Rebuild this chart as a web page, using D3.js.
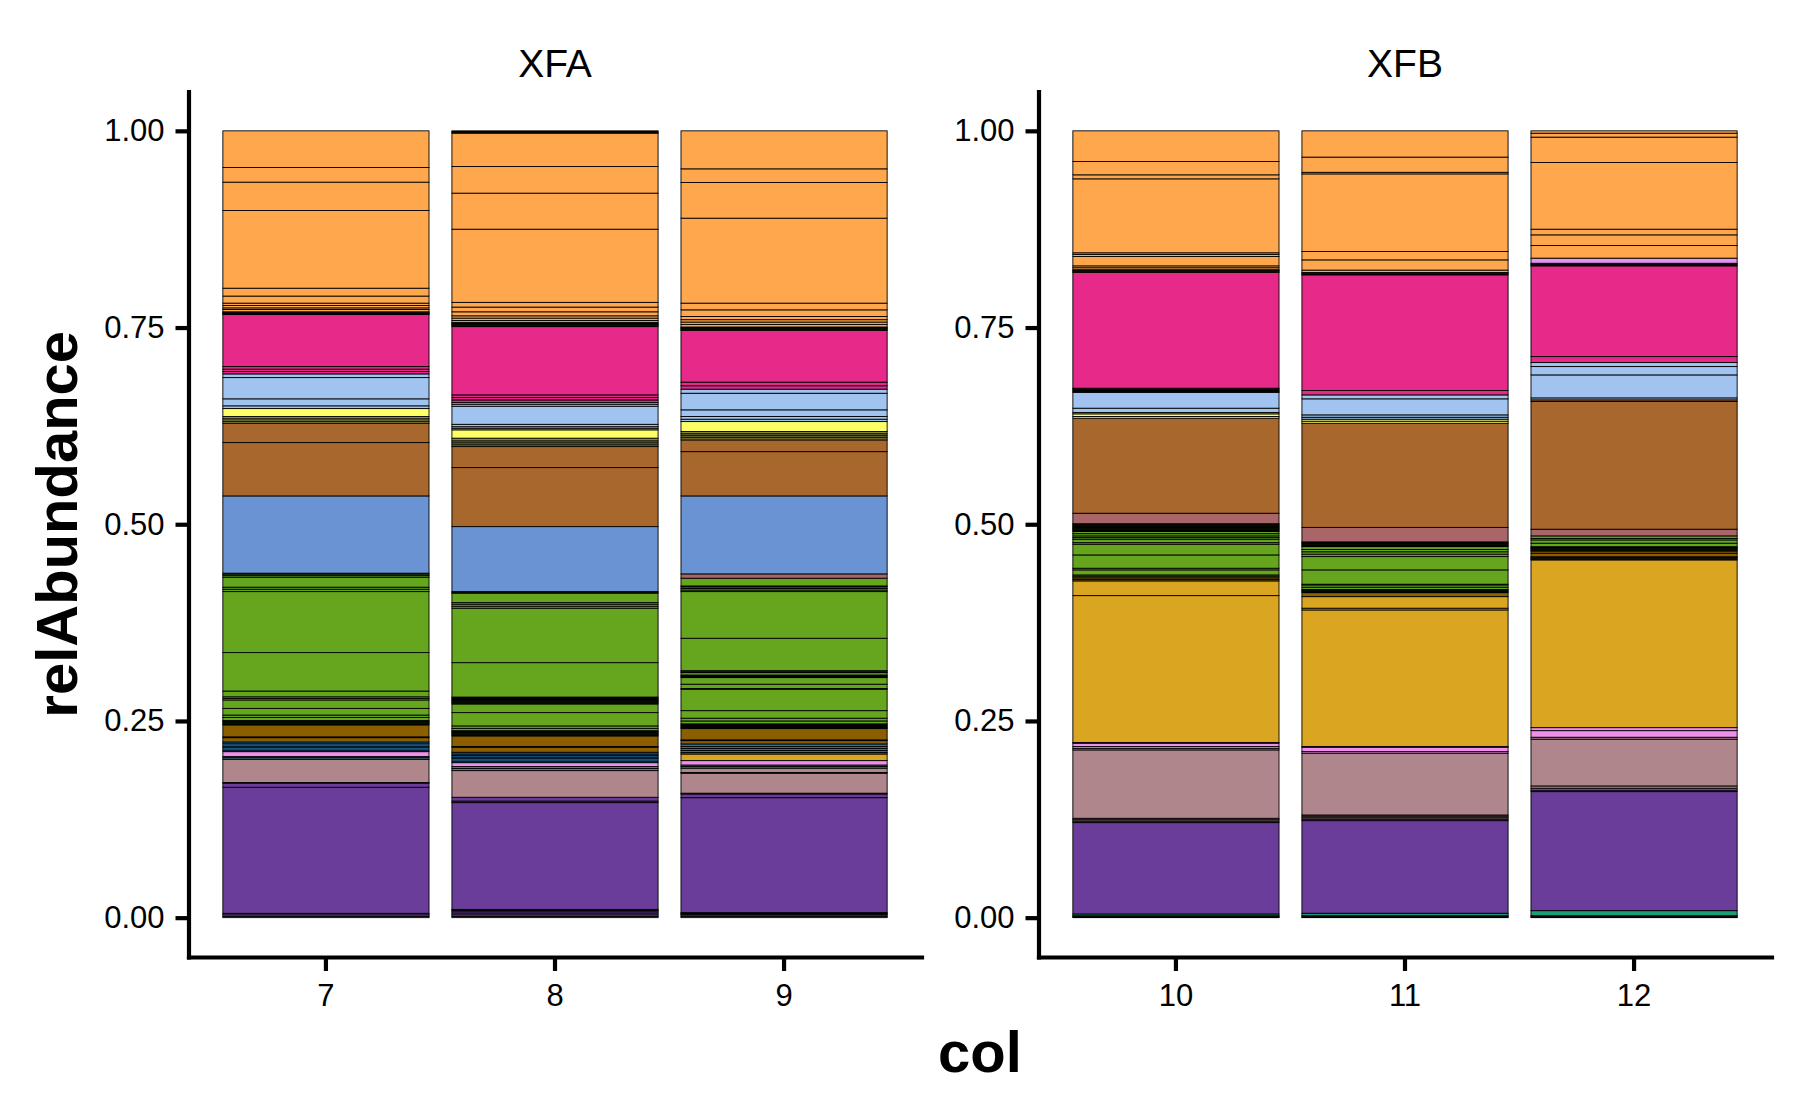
<!DOCTYPE html>
<html>
<head>
<meta charset="utf-8">
<script src="https://cdn.jsdelivr.net/npm/d3@7"></script>
<style>
  html, body { margin: 0; padding: 0; background: #ffffff; }
  svg { display: block; font-family: "Liberation Sans", Arial, Helvetica, sans-serif; }
</style>
</head>
<body>
<svg id="chart" width="1800" height="1113"></svg>
<script>
// ---------------- DATA ----------------
const facetNames = ["XFA", "XFB"];
const facetColumns = [["7", "8", "9"], ["10", "11", "12"]];
const yTicks = [0, 0.25, 0.5, 0.75, 1.0];
const xTitle = "col";
const yTitle = "relAbundance";

const groupKeys = ["grey", "teal", "purple", "mauve", "tealgrey", "violet", "blue", "darkbrown",
  "goldenrod", "green", "rosy", "cornflower", "brown", "olive", "yellow", "lightblue",
  "magenta", "lightviolet", "orange"];
const groupColors = ["#888888", "#1B9E77", "#6A3D9A", "#AF868C", "#468A8E", "#F08FEA", "#1F78B4", "#8B5E00",
  "#DAA520", "#66A61E", "#A86668", "#6A93D4", "#A8672D", "#8C8C40", "#FFFF66", "#A0C4EF",
  "#E7298A", "#E494F5", "#FFA74D"];

// stacked segments, bottom to top: [group, relAbundance]
const col7 = [
  ["grey",0.0015],["grey",0.002],["purple",0.002],["purple",0.1602],["purple",0.0051],
  ["mauve",0.001],["mauve",0.0295],["tealgrey",0.002],["tealgrey",0.0014],["violet",0.0063],
  ["blue",0.002],["blue",0.003],["blue",0.002],["blue",0.003],["blue",0.0023],
  ["darkbrown",0.0055],["darkbrown",0.001],["darkbrown",0.0152],
  ["green",0.0011],["green",0.0011],["green",0.0011],["green",0.0011],["green",0.0011],
  ["green",0.004],["green",0.003],["green",0.0085],["green",0.0107],["green",0.002],["green",0.002],
  ["green",0.0073],["green",0.0489],["green",0.0775],["green",0.003],["green",0.0026],["green",0.0127],
  ["green",0.002],["green",0.002],["green",0.0011],
  ["cornflower",0.0982],["brown",0.0678],["brown",0.0246],
  ["olive",0.0026],["olive",0.003],["olive",0.0029],["yellow",0.0101],
  ["lightblue",0.0035],["lightblue",0.0089],["lightblue",0.027],["lightblue",0.0047],
  ["magenta",0.003],["magenta",0.003],["magenta",0.0033],["magenta",0.0661],
  ["orange",0.0007],["orange",0.0007],["orange",0.0007],["orange",0.0007],["orange",0.0007],
  ["orange",0.003],["orange",0.002],["orange",0.003],["orange",0.003],["orange",0.009],["orange",0.010],
  ["orange",0.0987],["orange",0.0361],["orange",0.0186],["orange",0.0466]
];
const col8 = [
  ["grey",0.0015],["grey",0.002],["purple",0.0025],["purple",0.0025],["purple",0.001],["purple",0.001],
  ["purple",0.1357],["purple",0.002],["purple",0.0048],["mauve",0.0339],
  ["tealgrey",0.0026],["tealgrey",0.0025],["violet",0.005],
  ["blue",0.002],["blue",0.003],["blue",0.002],["blue",0.002],["blue",0.002],["blue",0.0022],
  ["darkbrown",0.0064],["darkbrown",0.001],["darkbrown",0.0134],
  ["green",0.0011],["green",0.0011],["green",0.0011],["green",0.0011],["green",0.0011],["green",0.0011],
  ["green",0.003],["green",0.0031],["green",0.0169],["green",0.011],
  ["green",0.0011],["green",0.0011],["green",0.0011],["green",0.0011],["green",0.0011],["green",0.0011],["green",0.0011],["green",0.0011],
  ["green",0.0437],["green",0.0692],["green",0.0025],["green",0.0026],["green",0.002],["green",0.012],
  ["green",0.001],["green",0.001],
  ["cornflower",0.0826],["brown",0.075],["brown",0.0267],
  ["olive",0.0023],["olive",0.0025],["olive",0.0025],["olive",0.0034],["yellow",0.0106],
  ["lightblue",0.002],["lightblue",0.002],["lightblue",0.003],["lightblue",0.023],["lightblue",0.0025],["lightblue",0.0021],
  ["magenta",0.0034],["magenta",0.003],["magenta",0.0034],["magenta",0.0868],
  ["orange",0.0009],["orange",0.0009],["orange",0.0009],["orange",0.0009],["orange",0.0009],["orange",0.0009],
  ["orange",0.0024],["orange",0.003],["orange",0.0029],["orange",0.0051],["orange",0.006],["orange",0.006],
  ["orange",0.093],["orange",0.0458],["orange",0.0338],["orange",0.0424],
  ["orange",0.001],["orange",0.001],["orange",0.001]
];
const col9 = [
  ["grey",0.0015],["grey",0.0019],["purple",0.001],["purple",0.001],["purple",0.001],
  ["purple",0.1461],["purple",0.0047],["mauve",0.001],["mauve",0.0253],["mauve",0.001],["mauve",0.0055],
  ["tealgrey",0.002],["tealgrey",0.002],["violet",0.0056],["goldenrod",0.0084],
  ["blue",0.002],["blue",0.0025],["blue",0.0025],["blue",0.0025],["blue",0.0033],
  ["darkbrown",0.0042],["darkbrown",0.001],["darkbrown",0.0143],
  ["green",0.0012],["green",0.0012],["green",0.0012],["green",0.0012],["green",0.0012],
  ["green",0.0037],["green",0.0035],["green",0.0096],["green",0.0272],["green",0.001],["green",0.0054],["green",0.0084],
  ["green",0.0011],["green",0.0011],["green",0.0011],["green",0.003],["green",0.0011],["green",0.0014],
  ["green",0.0412],["green",0.0593],["green",0.002],["green",0.002],["green",0.002],["green",0.0012],["green",0.0098],
  ["rosy",0.0055],["cornflower",0.0991],["brown",0.0563],["brown",0.0149],
  ["olive",0.0028],["olive",0.0025],["olive",0.0025],["olive",0.0028],["yellow",0.0127],
  ["lightblue",0.003],["lightblue",0.0034],["lightblue",0.0085],["lightblue",0.0211],["lightblue",0.0052],
  ["magenta",0.0043],["magenta",0.0046],["magenta",0.0656],
  ["orange",0.0009],["orange",0.0009],["orange",0.0009],["orange",0.0009],["orange",0.0009],
  ["orange",0.0033],["orange",0.003],["orange",0.003],["orange",0.004],["orange",0.0085],["orange",0.0085],
  ["orange",0.108],["orange",0.0453],["orange",0.0174],["orange",0.0483]
];
const col10 = [
  ["grey",0.0008],["grey",0.0008],["grey",0.0008],["teal",0.0023],["purple",0.1161],["purple",0.002],
  ["mauve",0.0017],["mauve",0.0018],["mauve",0.0869],["mauve",0.002],["violet",0.0022],["violet",0.0043],
  ["goldenrod",0.001],["goldenrod",0.1866],["goldenrod",0.0187],["darkbrown",0.002],["darkbrown",0.002],
  ["green",0.002],["green",0.0016],["green",0.0064],["green",0.0021],["green",0.0169],["green",0.0136],
  ["green",0.002],["green",0.0044],["green",0.002],["green",0.0022],["green",0.0028],["green",0.0027],
  ["green",0.001],["green",0.001],["green",0.001],["green",0.001],["green",0.001],
  ["green",0.001],["green",0.001],["green",0.001],["green",0.001],["green",0.001],
  ["rosy",0.0133],["brown",0.1208],["yellow",0.0022],["yellow",0.0033],
  ["lightblue",0.0017],["lightblue",0.0055],["lightblue",0.0199],
  ["lightblue",0.0011],["lightblue",0.0011],["lightblue",0.0011],["lightblue",0.0011],["lightblue",0.0011],
  ["magenta",0.147],["orange",0.0009],["orange",0.0009],["orange",0.0009],["orange",0.0009],
  ["orange",0.0025],["orange",0.0024],["orange",0.0119],["orange",0.0027],["orange",0.002],
  ["orange",0.094],["orange",0.0051],["orange",0.0169],["orange",0.039]
];
const col11 = [
  ["grey",0.0008],["grey",0.0008],["grey",0.0008],["teal",0.0032],["purple",0.1177],["purple",0.002],
  ["mauve",0.0017],["mauve",0.002],["mauve",0.0015],["mauve",0.0785],["violet",0.002],["violet",0.0056],
  ["goldenrod",0.001],["goldenrod",0.1735],["goldenrod",0.0022],["goldenrod",0.0147],["darkbrown",0.0051],
  ["green",0.001],["green",0.001],["green",0.001],["green",0.001],
  ["green",0.0029],["green",0.0029],["green",0.0009],["green",0.0182],["green",0.0169],
  ["green",0.0031],["green",0.003],["green",0.003],["green",0.0036],
  ["green",0.001],["green",0.001],["green",0.001],["green",0.001],["green",0.001],["green",0.001],
  ["rosy",0.0184],["brown",0.1324],["yellow",0.0026],["yellow",0.0025],
  ["lightblue",0.0025],["lightblue",0.003],["lightblue",0.0204],["lightblue",0.005],
  ["magenta",0.0056],["magenta",0.147],["orange",0.001],["orange",0.001],["orange",0.001],
  ["orange",0.003],["orange",0.013],["orange",0.0106],["orange",0.0987],["orange",0.002],
  ["orange",0.0193],["orange",0.0334]
];
const col12 = [
  ["grey",0.0008],["grey",0.0008],["grey",0.0008],["teal",0.0065],["purple",0.1513],["purple",0.002],
  ["mauve",0.0023],["mauve",0.0029],["mauve",0.0594],["mauve",0.0025],["violet",0.0084],["violet",0.0038],
  ["goldenrod",0.2132],["goldenrod",0.001],["goldenrod",0.001],["goldenrod",0.001],["goldenrod",0.001],
  ["darkbrown",0.0045],["darkbrown",0.0028],
  ["green",0.0011],["green",0.0011],["green",0.0011],["green",0.0011],["green",0.0011],
  ["green",0.0044],["green",0.0042],["green",0.0019],["green",0.0032],
  ["rosy",0.0085],["brown",0.1623],["brown",0.0021],
  ["lightblue",0.0025],["lightblue",0.0292],["lightblue",0.0106],["lightblue",0.0051],
  ["magenta",0.0076],["magenta",0.1153],["magenta",0.0011],["magenta",0.0011],["magenta",0.0011],
  ["lightviolet",0.0065],["orange",0.016],["orange",0.0136],["orange",0.0072],["orange",0.0847],
  ["orange",0.0323],["orange",0.005],["orange",0.003]
];
const columnData = { "7": col7, "8": col8, "9": col9, "10": col10, "11": col11, "12": col12 };

// ---------------- LAYOUT ----------------
const svg = d3.select("#chart");
const fontFamily = '"Liberation Sans", Arial, Helvetica, sans-serif';
const panelTop = 91.5, panelBottom = 957;
const panelX = [[188.5, 921.5], [1038.5, 1771.5]];
const color = d3.scaleOrdinal().domain(groupKeys).range(groupColors);
const y = d3.scaleLinear().domain([-0.05, 1.05]).range([panelBottom, panelTop]);

facetNames.forEach((name, fi) => {
  const [x0, x1] = panelX[fi];
  const x = d3.scaleBand().domain(facetColumns[fi]).range([x0, x1])
    .paddingInner(0.1).paddingOuter(0.15);

  const g = svg.append("g");

  // bars
  facetColumns[fi].forEach(c => {
    let cum = 0;
    const segs = columnData[c].map(([grp, v]) => {
      const s = { grp, y0: cum, y1: cum + v };
      cum += v;
      return s;
    });
    g.append("g").selectAll("rect").data(segs).join("rect")
      .attr("x", x(c))
      .attr("width", x.bandwidth())
      .attr("y", d => y(d.y1))
      .attr("height", d => Math.max(0, y(d.y0) - y(d.y1)))
      .attr("fill", d => color(d.grp))
      .attr("stroke", "#000")
      .attr("stroke-width", 0.9);
  });

  // y axis
  const ya = g.append("g").attr("transform", `translate(${x0},0)`)
    .call(d3.axisLeft(y).tickValues(yTicks).tickFormat(d3.format(".2f"))
      .tickSize(13).tickSizeOuter(0).tickPadding(11));
  // x axis
  const xa = g.append("g").attr("transform", `translate(0,${panelBottom})`)
    .call(d3.axisBottom(x).tickSize(14).tickSizeOuter(0).tickPadding(13));

  [ya, xa].forEach(a => {
    a.select(".domain").attr("stroke", "#000").attr("stroke-width", 4.2).attr("stroke-linecap", "square");
    a.selectAll(".tick line").attr("stroke", "#000").attr("stroke-width", 4.2);
    a.selectAll(".tick text").attr("fill", "#000").attr("font-size", 31).attr("font-family", fontFamily);
  });

  // strip label
  svg.append("text")
    .attr("x", (x0 + x1) / 2).attr("y", 77)
    .attr("text-anchor", "middle")
    .attr("font-size", 39).attr("fill", "#000")
    .text(name);
});

// axis titles
svg.append("text")
  .attr("x", (panelX[0][0] + panelX[1][1]) / 2).attr("y", 1072)
  .attr("text-anchor", "middle").attr("font-size", 58).attr("font-weight", "bold")
  .attr("fill", "#000").text(xTitle);
svg.append("text")
  .attr("transform", `translate(77,${(panelTop + panelBottom) / 2}) rotate(-90)`)
  .attr("text-anchor", "middle").attr("font-size", 58).attr("font-weight", "bold")
  .attr("fill", "#000").text(yTitle);
</script>
</body>
</html>
